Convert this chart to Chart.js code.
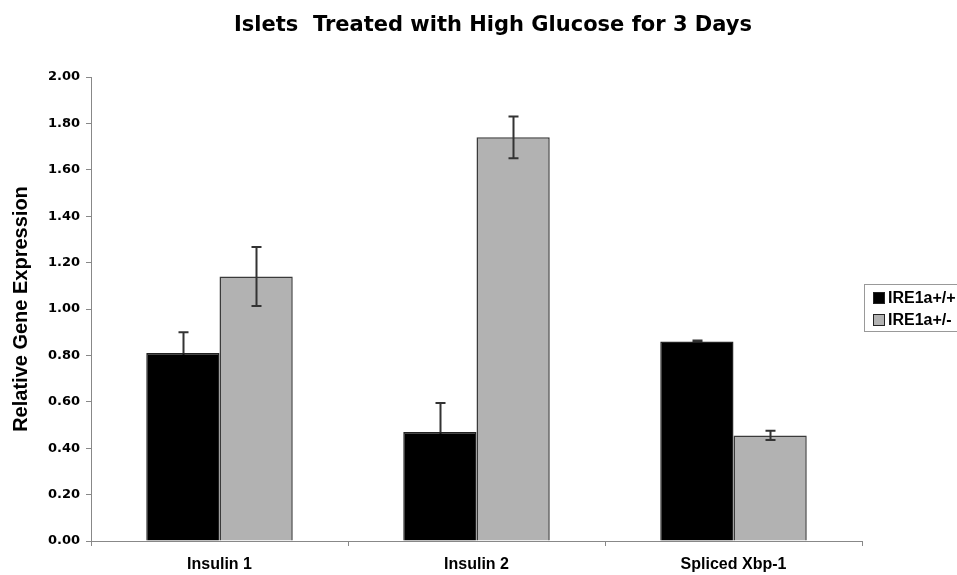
<!DOCTYPE html>
<html>
<head>
<meta charset="utf-8">
<script src="https://cdn.jsdelivr.net/npm/chart.js@4"></script>
<style>
  html, body { margin: 0; padding: 0; background: #fff; }
  #wrap { width: 957px; height: 575px; position: relative; }
</style>
</head>
<body>
<div id="wrap"><canvas id="chart" width="957" height="575"></canvas></div>
<script>
// ─── Data ─────────────────────────────────────────────────────────────────────

const chartTitle = "Islets  Treated with High Glucose for 3 Days";
const categories = ["Insulin 1", "Insulin 2", "Spliced Xbp-1"];
const seriesNames = ["IRE1a+/+", "IRE1a+/-"];
const wildType = [0.81, 0.47, 0.86];
const wildTypeErr = [0.09, 0.125, 0.004];
const hetero = [1.14, 1.74, 0.455];
const heteroErr = [0.127, 0.09, 0.02];
const yTicks = [0, 0.2, 0.4, 0.6, 0.8, 1.0, 1.2, 1.4, 1.6, 1.8, 2.0];

const FONT = "'Liberation Sans', Arial, sans-serif";
const WIDE = "'DejaVu Sans', sans-serif";

// ─── Plugins ──────────────────────────────────────────────────────────────────

function drawErrors(chart, behind) {
  const { ctx } = chart;
  const y = chart.scales.y;
  ctx.save();
  ctx.strokeStyle = "#333";
  ctx.lineWidth = 2;
  chart.data.datasets.forEach((ds, i) => {
    if (!!ds.errorBehind !== behind) return;
    const meta = chart.getDatasetMeta(i);
    meta.data.forEach((bar, j) => {
      const v = ds.data[j], e = ds.errors[j];
      const top = y.getPixelForValue(v + e);
      const bot = y.getPixelForValue(v - e);
      const x = Math.round(bar.x) + 0.5;
      ctx.beginPath();
      ctx.moveTo(x, top); ctx.lineTo(x, bot);
      ctx.moveTo(x - 5, top); ctx.lineTo(x + 5, top);
      ctx.moveTo(x - 5, bot); ctx.lineTo(x + 5, bot);
      ctx.stroke();
    });
  });
  ctx.restore();
}

const errorBars = {
  id: "errorBars",
  beforeDatasetsDraw(chart) { drawErrors(chart, true); },
  afterDatasetsDraw(chart) { drawErrors(chart, false); },
};

const titleAndLegend = {
  id: "titleAndLegend",
  afterDraw(chart) {
    const { ctx } = chart;
    ctx.save();
    // title, centred on the whole picture
    ctx.fillStyle = "#000";
    ctx.font = `bold 21px ${WIDE}`;
    ctx.textAlign = "center";
    ctx.textBaseline = "alphabetic";
    ctx.fillText(chartTitle, 493, 31);

    // legend box
    ctx.textAlign = "left";
    ctx.strokeStyle = "#999";
    ctx.lineWidth = 1;
    ctx.strokeRect(864.5, 284.5, 110, 47);
    ctx.font = `bold 16px ${FONT}`;
    ctx.textBaseline = "middle";
    chart.data.datasets.forEach((ds, i) => {
      const yy = 298 + i * 22;
      ctx.fillStyle = ds.backgroundColor;
      ctx.fillRect(873, yy - 6, 12, 12);
      ctx.strokeStyle = "#222";
      ctx.strokeRect(873.5, yy - 5.5, 11, 11);
      ctx.fillStyle = "#000";
      ctx.fillText(ds.label, 888, yy + 1);
    });
    ctx.restore();
  },
};

// ─── Chart ────────────────────────────────────────────────────────────────────

new Chart(document.getElementById("chart"), {
  type: "bar",
  data: {
    labels: categories,
    datasets: [
      { label: seriesNames[0], data: wildType, errors: wildTypeErr, errorBehind: true,
        backgroundColor: "#000000", borderColor: "#222", borderWidth: 1.5 },
      { label: seriesNames[1], data: hetero, errors: heteroErr,
        backgroundColor: "#b2b2b2", borderColor: "#3a3a3a", borderWidth: 1.5 },
    ],
  },
  plugins: [errorBars, titleAndLegend],
  options: {
    responsive: false,
    animation: false,
    layout: { padding: { left: 0, right: 95, top: 77, bottom: 0 } },
    datasets: { bar: { barPercentage: 1.0, categoryPercentage: 0.57 } },
    plugins: {
      legend: { display: false },
      tooltip: { enabled: false },
      title: { display: false },
    },
    scales: {
      x: {
        grid: { display: true, drawOnChartArea: false, drawTicks: true, tickLength: 5, color: "#888" },
        border: { color: "#888", width: 1 },
        ticks: { color: "#000", padding: 9, font: { family: FONT, size: 16, weight: "bold" } },
        afterFit(scale) { scale.height = 34; },
      },
      y: {
        min: 0,
        max: 2,
        afterBuildTicks(scale) { scale.ticks = yTicks.map(v => ({ value: v })); },
        grid: { display: true, drawOnChartArea: false, drawTicks: true, tickLength: 5, color: "#888" },
        border: { color: "#888", width: 1 },
        ticks: {
          color: "#000",
          padding: 6,
          font: { family: WIDE, size: 13, weight: "bold" },
          callback: v => v.toFixed(2),
        },
        title: {
          display: true,
          text: "Relative Gene Expression",
          color: "#000",
          font: { family: FONT, size: 20, weight: "bold" },
          padding: { top: 9, bottom: 0 },
        },
        afterFit(scale) { scale.width = 91; },
      },
    },
  },
});
</script>
</body>
</html>
